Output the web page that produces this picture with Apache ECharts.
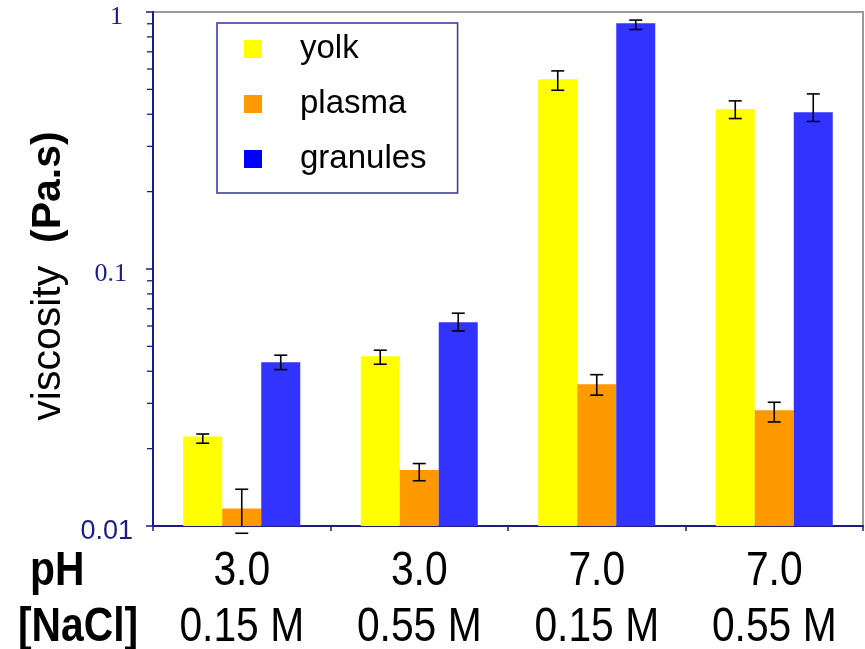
<!DOCTYPE html>
<html>
<head>
<meta charset="utf-8">
<script src="https://cdn.jsdelivr.net/npm/echarts@6/dist/echarts.min.js"></script>
<style>
  html, body { margin: 0; padding: 0; background: #fff; }
  #chart { width: 865px; height: 649px; }
</style>
</head>
<body>
<div id="chart"></div>
<script>
// Condition labels (two rows under each group)
const phLabels = ['3.0', '3.0', '7.0', '7.0'];
const naclLabels = ['0.15 M', '0.55 M', '0.15 M', '0.55 M'];
const rowTitles = ['pH', '[NaCl]'];

// Series names
const seriesNames = ['yolk', 'plasma', 'granules'];

// Viscosity (Pa.s) per condition
const yolk = [0.0223, 0.0458, 0.548, 0.418];
const plasma = [0.0117, 0.0165, 0.0356, 0.0282];
const granules = [0.0434, 0.0621, 0.905, 0.407];

// Error bar ranges [low, high]
const yolkErr = [[0.0210, 0.0228], [0.0426, 0.0483], [0.496, 0.590], [0.385, 0.451]];
const plasmaErr = [[0.00937, 0.0139], [0.0150, 0.0175], [0.0323, 0.0388], [0.0254, 0.0303]];
const granulesErr = [[0.0406, 0.0462], [0.0574, 0.0673], [0.855, 0.930], [0.375, 0.480]];

// Logarithmic axis range and decorations
const Y_MIN = 0.01;
const Y_MAX = 1;
const yMajorLabels = { '0.01': '0.01', '0.1': '0.1', '1': '1' };
const yMinorTicks = [0.02, 0.03, 0.04, 0.05, 0.06, 0.07, 0.08, 0.09,
                     0.2, 0.3, 0.4, 0.5, 0.6, 0.7, 0.8, 0.9];

const BAR_W = 39;
const NAVY = '#1c1c88';
const colors = ['#ffff00', '#ff9900', '#3333ff'];
const legendColors = ['#ffff00', '#ff9900', '#0000ff'];
const NARROW = 0.85;
const SANS = 'Liberation Sans, Arial, sans-serif';

const categories = phLabels.map((p, i) => p + '\n' + naclLabels[i]);

// Bars grow up from the bottom of the log axis
function barRenderer(offsetIdx) {
  return function (params, api) {
    const i = api.value(0);
    const top = api.coord([i, api.value(1)]);
    const base = api.coord([i, Y_MIN]);
    const x = top[0] + offsetIdx * BAR_W - BAR_W / 2;
    return {
      type: 'rect',
      shape: { x: x, y: top[1], width: BAR_W, height: base[1] - top[1] },
      style: { fill: api.visual('color') }
    };
  };
}

function errorRenderer(offsetIdx) {
  return function (params, api) {
    const i = api.value(0);
    const lo = api.coord([i, api.value(1)]);
    const hi = api.coord([i, api.value(2)]);
    const x = lo[0] + offsetIdx * BAR_W;
    const axisY = params.coordSys.y + params.coordSys.height;
    const stemEnd = Math.min(lo[1], axisY);
    const cap = 6.5;
    const style = { stroke: '#000', lineWidth: 1.6 };
    return {
      type: 'group',
      children: [
        { type: 'line', shape: { x1: x, y1: hi[1], x2: x, y2: stemEnd }, style },
        { type: 'line', shape: { x1: x - cap, y1: hi[1], x2: x + cap, y2: hi[1] }, style },
        { type: 'line', shape: { x1: x - cap, y1: lo[1], x2: x + cap, y2: lo[1] }, style }
      ]
    };
  };
}

const barSeries = [yolk, plasma, granules].map((vals, k) => ({
  name: seriesNames[k],
  type: 'custom',
  data: vals.map((v, i) => [i, v]),
  encode: { x: 0, y: 1 },
  renderItem: barRenderer(k - 1),
  itemStyle: { color: colors[k] },
  z: 2
}));

const errSeries = [yolkErr, plasmaErr, granulesErr].map((arr, k) => ({
  type: 'custom',
  data: arr.map((r, i) => [i, r[0], r[1]]),
  encode: { x: 0, y: [1, 2] },
  renderItem: errorRenderer(k - 1),
  z: 5,
  silent: true
}));

const minorTickSeries = {
  type: 'custom',
  data: yMinorTicks.map(v => [0, v]),
  encode: { x: 0, y: 1 },
  renderItem: function (params, api) {
    const y = api.coord([0, api.value(1)])[1];
    const x0 = params.coordSys.x;
    return {
      type: 'line',
      shape: { x1: x0 - 6, y1: y, x2: x0, y2: y },
      style: { stroke: NAVY, lineWidth: 1.3 }
    };
  },
  z: 6,
  silent: true
};

// Two rows of condition labels under each category, in a condensed face
const categoryLabelSeries = {
  type: 'custom',
  data: categories.map((c, i) => [i, Y_MIN]),
  encode: { x: 0, y: 1 },
  renderItem: function (params, api) {
    const i = api.value(0);
    const x = api.coord([i, Y_MIN])[0];
    const axisY = params.coordSys.y + params.coordSys.height;
    const mk = (txt, dy) => ({
      type: 'text', x: x, y: axisY + dy, scaleX: NARROW,
      style: { text: txt, fontFamily: SANS, fontSize: 48, fill: '#000', align: 'center', verticalAlign: 'middle' }
    });
    return { type: 'group', children: [mk(phLabels[i], 46), mk(naclLabels[i], 102)] };
  },
  z: 6,
  silent: true
};

const chart = echarts.init(document.getElementById('chart'), null, { renderer: 'canvas' });

chart.setOption({
  animation: false,
  backgroundColor: '#ffffff',
  grid: {
    left: 153, top: 12, right: 2, bottom: 123,
    show: true,
    borderColor: '#9a9a9a',
    borderWidth: 2,
    backgroundColor: 'transparent'
  },
  legend: {
    orient: 'vertical',
    left: 217,
    top: 23,
    icon: 'rect',
    itemWidth: 18,
    itemHeight: 18,
    itemGap: 19,
    padding: [8, 31, 16, 27],
    borderColor: '#33339a',
    borderWidth: 1.5,
    selectedMode: false,
    data: seriesNames.map((n, k) => ({ name: n, itemStyle: { color: legendColors[k] } })),
    textStyle: {
      fontFamily: SANS,
      fontSize: 33,
      lineHeight: 36,
      color: '#000',
      padding: [0, 0, 0, 33]
    }
  },
  xAxis: {
    type: 'category',
    data: categories,
    boundaryGap: true,
    axisLine: { lineStyle: { color: NAVY, width: 2 } },
    axisTick: { show: true, length: 5, alignWithLabel: false, lineStyle: { color: NAVY, width: 1.5 } },
    axisLabel: { show: false },
    splitLine: { show: false }
  },
  yAxis: {
    type: 'log',
    logBase: 10,
    min: Y_MIN,
    max: Y_MAX,
    name: '{r|viscosity  }{b|(Pa.s)}',
    nameLocation: 'middle',
    nameRotate: 90,
    nameGap: 80,
    nameTextStyle: {
      rich: {
        r: { fontFamily: SANS, fontSize: 41, color: '#000' },
        b: { fontFamily: SANS, fontSize: 41, fontWeight: 'bold', color: '#000', padding: [0, 14, 0, 0] }
      }
    },
    axisLine: { show: true, lineStyle: { color: NAVY, width: 2 } },
    axisTick: { show: true, length: 7, lineStyle: { color: NAVY, width: 1.5 } },
    splitLine: { show: false },
    axisLabel: {
      margin: 20,
      formatter: function (v) {
        const key = String(+v.toPrecision(3));
        const txt = yMajorLabels[key] || key;
        if (txt === '0.01') return '{h|' + txt + '}';
        if (txt === '0.1') return '{t|' + txt + '}';
        return '{o|' + txt + '}';
      },
      rich: {
        h: { fontFamily: SANS, fontSize: 27, color: NAVY, padding: [11, 0, 0, 0] },
        t: { fontFamily: 'Liberation Serif, Times New Roman, serif', fontSize: 26, color: NAVY, padding: [10, 6, 0, 0] },
        o: { fontFamily: 'Liberation Serif, Times New Roman, serif', fontSize: 26, color: NAVY, padding: [10, 10, 0, 0] }
      }
    }
  },
  graphic: [
    {
      type: 'text', x: 30, y: 572, scaleX: NARROW,
      style: { text: rowTitles[0], fontFamily: SANS, fontSize: 48, fontWeight: 'bold', fill: '#000', align: 'left', verticalAlign: 'middle' }
    },
    {
      type: 'text', x: 18, y: 628, scaleX: NARROW,
      style: { text: rowTitles[1], fontFamily: SANS, fontSize: 48, fontWeight: 'bold', fill: '#000', align: 'left', verticalAlign: 'middle' }
    }
  ],
  series: barSeries.concat(errSeries, [minorTickSeries, categoryLabelSeries])
});
</script>
</body>
</html>
